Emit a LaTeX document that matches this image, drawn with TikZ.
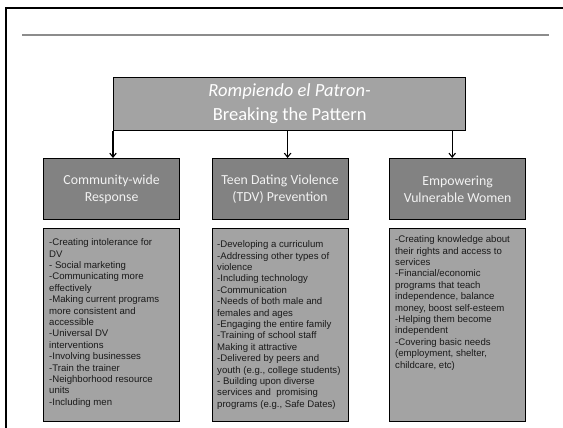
\documentclass[tikz,border=0pt]{standalone}
\usepackage{fontspec}
\setmainfont{Liberation Sans}
\newfontfamily\calib{Carlito}
\usetikzlibrary{arrows.meta,calc}
\definecolor{titlefill}{HTML}{A3A3A3}
\definecolor{hdrfill}{HTML}{828282}
\definecolor{bodyfill}{HTML}{A3A3A3}
\definecolor{hdrtext}{HTML}{F2F2F2}
\definecolor{rulegrey}{HTML}{8C8C8C}
\definecolor{bodytext}{HTML}{1A1A1A}
\tikzset{
  titlebox/.style={draw=black, line width=1.2pt, fill=titlefill, anchor=north west,
    minimum width=352pt, minimum height=53pt, inner sep=0pt, align=center,
    text=white, font=\calib\fontsize{18.5}{24}\selectfont},
  hdrbox/.style={draw=black, line width=1.2pt, fill=hdrfill, anchor=north west,
    minimum width=136pt, minimum height=61pt, inner sep=0pt, align=center,
    text=hdrtext, font=\calib\fontsize{13.8}{17}\selectfont},
  bodybox/.style={draw=black, line width=1.2pt, fill=bodyfill, anchor=north west,
    minimum width=136pt, minimum height=193pt, inner sep=0pt},
  bodytxt/.style={anchor=north west, inner sep=0pt, align=left, text=bodytext,
    font=\fontsize{9.6}{11.4}\selectfont},
  conn/.style={line width=1.1pt, -{Straight Barb[length=4pt,width=6.5pt]}}
}
\begin{document}
\begin{tikzpicture}[x=1pt,y=-1pt]
\useasboundingbox (0,0) rectangle (563,428);
% slide frame
\draw[line width=2.5pt, black] (6,440) -- (6,8) -- (575,8);
\draw[line width=2pt, rulegrey] (22,35.5) -- (549,35.5);
% title
\node[titlebox] (title) at (113,77) {\textit{Rompiendo el Patron-}\\Breaking the Pattern};
% headers
\node[hdrbox] (hl) at (43,158) {Community-wide\\Response};
\node[hdrbox] (hm) at (211.5,158) {Teen Dating Violence\\(TDV) Prevention};
\node[hdrbox] (hr) at (389,158) {Empowering\\Vulnerable Women};
% bodies
\node[bodybox] (bl) at (43,228) {};
\node[bodybox] (bm) at (211.5,228) {};
\node[bodybox] (br) at (389,228) {};
\node[bodytxt] (tl) at (49,238.5) {-Creating intolerance for\\DV\\- Social marketing\\-Communicating more\\effectively\\-Making current programs\\more consistent and\\accessible\\-Universal DV\\interventions\\-Involving businesses\\-Train the trainer\\-Neighborhood resource\\units\\-Including men};
\node[bodytxt] (tm) at (217,240.5) {-Developing a curriculum\\-Addressing other types of\\violence\\-Including technology\\-Communication\\-Needs of both male and\\females and ages\\-Engaging the entire family\\-Training of school staff\\Making it attractive\\-Delivered by peers and\\youth (e.g., college students)\\- Building upon diverse\\services and\ \ promising\\programs (e.g., Safe Dates)};
\node[bodytxt] (tr) at (395,235.5) {-Creating knowledge about\\their rights and access to\\services\\-Financial/economic\\programs that teach\\independence, balance\\money, boost self-esteem\\-Helping them become\\independent\\-Covering basic needs\\(employment, shelter,\\childcare, etc)};
% connectors
\coordinate (cl) at (title.south west);
\coordinate (cm) at ($(title.south)+(-2,0)$);
\coordinate (cr) at ($(title.south east)+(-14,0)$);
\draw[conn] (cl) -- (cl |- hl.north);
\draw[conn] (cm) -- (cm |- hm.north);
\draw[conn] (cr) -- (cr |- hr.north);
\end{tikzpicture}
\end{document}
